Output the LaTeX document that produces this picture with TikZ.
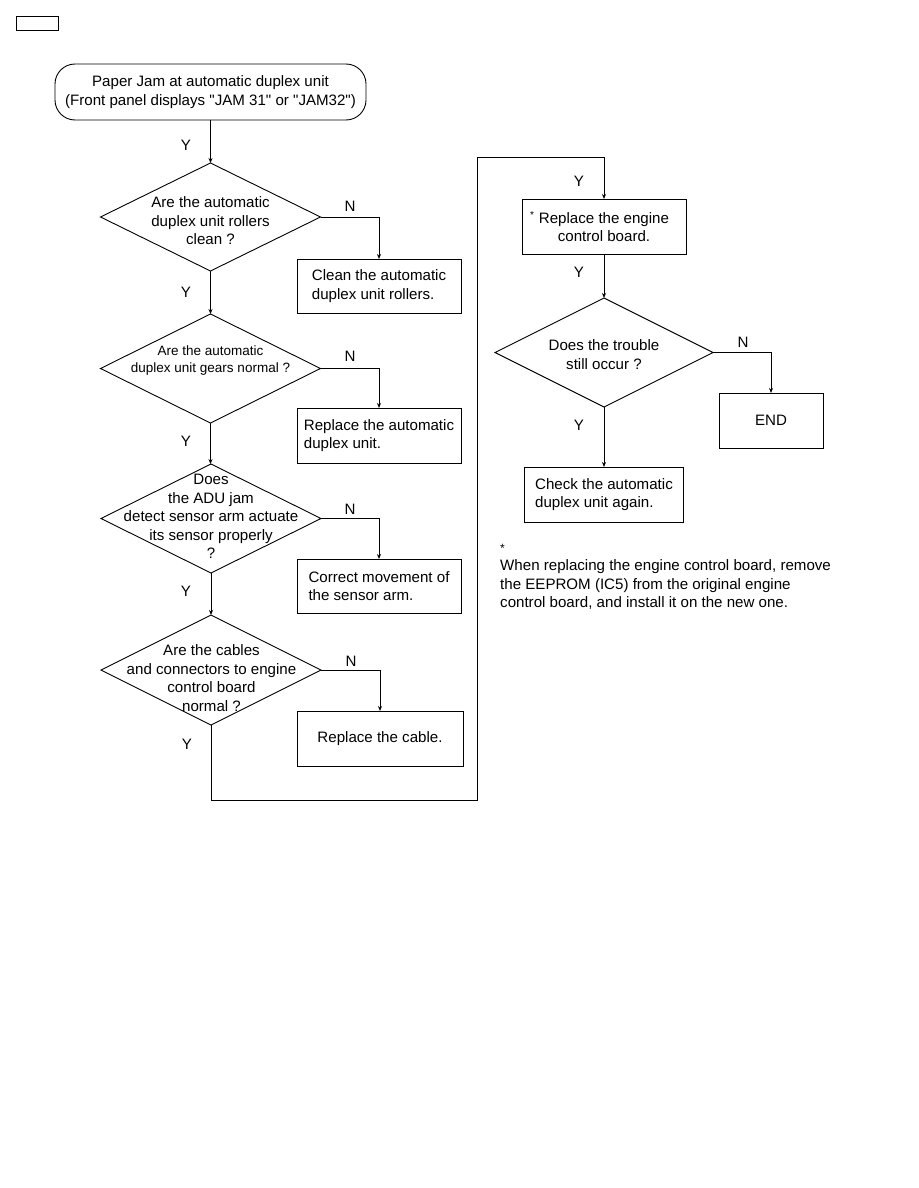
\documentclass[tikz,border=0pt]{standalone}
\usepackage{fontspec}
\setmainfont{Liberation Sans}[Ligatures=TeXOff]
\usetikzlibrary{shapes.geometric,arrows.meta}
\begin{document}
\begin{tikzpicture}[x=1pt,y=-1pt,
  every node/.style={font=\fontsize{15.1}{18.4}\selectfont},
  box/.style={draw, line width=0.9pt, minimum height=54, outer sep=0, align=left},
  dia/.style={draw, diamond, line width=0.9pt, inner sep=0, outer sep=0, minimum width=220, minimum height=108},
  dtext/.style={align=center, inner sep=0},
  conn/.style={line width=0.9pt, -{Stealth[length=5pt,width=4pt]}},
  lbl/.style={inner sep=0}]
\useasboundingbox (0,0) rectangle (918,1188);

\node[draw, line width=0.9pt, minimum width=42, minimum height=14, inner sep=0] (tag) at (37,23) {};

\node[draw, line width=0.9pt, rounded corners=20pt, minimum width=311, minimum height=56, align=center] (start) at (210.5,92)
  {Paper Jam at automatic duplex unit\\(Front panel displays "JAM 31" or "JAM32")};

% left column
\node[dia] (d1) at (210.5,217) {};
\node[dtext] at (210.5,221) {Are the automatic\\duplex unit rollers\\clean ?};
\node[box, minimum width=164] (b1) at (379,286) {Clean the automatic\\duplex unit rollers.};

\node[dia, minimum height=109] (d2) at (210.5,368.5) {};
\node[dtext, font=\fontsize{13.5}{17}\selectfont] at (210.5,360.5) {Are the automatic\\duplex unit gears normal ?};
\node[box, minimum width=164, minimum height=55] (b2) at (379,435.5) {Replace the automatic\\duplex unit.};

\node[dia, minimum height=109] (d3) at (211,518.5) {};
\node[dtext] at (211,516.5) {Does\\the ADU jam\\detect sensor arm actuate\\its sensor properly\\?};
\node[box, minimum width=164] (b3) at (379,586) {Correct movement of\\the sensor arm.};

\node[dia, minimum height=110] (d4) at (211,670) {};
\node[dtext] at (211.5,678) {Are the cables\\and connectors to engine\\control board\\normal ?};
\node[box, minimum width=166, minimum height=55] (b4) at (380,738.5) {Replace the cable.};

% right column
\node[box, minimum width=164, minimum height=55, align=center] (b5) at (604,226.5)
  {\llap{\raisebox{5pt}{\fontsize{10}{10}\selectfont *}\,\,}Replace the engine\\control board.};
\node[dia, minimum width=218, minimum height=109] (d5) at (604,352.5) {};
\node[dtext] at (604,354.5) {Does the trouble\\still occur ?};
\node[box, minimum width=104, minimum height=55] (end) at (771,420.5) {END};
\node[box, minimum width=159, minimum height=55] (b6) at (604,494.5) {Check the automatic\\duplex unit again.};

\node[align=left, inner sep=0, anchor=west] (note) at (500,577)
  {{\fontsize{12}{12}\selectfont *}\\When replacing the engine control board, remove\\the EEPROM (IC5) from the original engine\\control board, and install it on the new one.};

% connectors
\draw[conn] (start.south) -- (d1.north);
\draw[conn] (d1.east) -| (b1.north);
\draw[conn] (d1.south) -- (d2.north);
\draw[conn] (d2.east) -| (b2.north);
\draw[conn] (d2.south) -- (d2.south |- d3.north);
\draw[conn] (d3.east) -| (b3.north);
\draw[conn] (d3.south) -- (d4.north);
\draw[conn] (d4.east) -| (b4.north);

\coordinate (c1) at (211,800);
\coordinate (c2) at (477,800);
\coordinate (c3) at (477,157);
\draw[conn] (d4.south) -- (c1) -- (c2) -- (c3) -| (b5.north);
\draw[conn] (b5.south) -- (d5.north);
\draw[conn] (d5.east) -| (end.north);
\draw[conn] (d5.south) -- (b6.north);

% labels
\node[lbl] (y1) at (186,145) {Y};
\node[lbl] (y2) at (186,292) {Y};
\node[lbl] (y3) at (186,441) {Y};
\node[lbl] (y4) at (186,591) {Y};
\node[lbl] (y5) at (187,744) {Y};
\node[lbl] (y6) at (579,181) {Y};
\node[lbl] (y7) at (579,272) {Y};
\node[lbl] (y8) at (579,425) {Y};
\node[lbl] (n1) at (350,206) {N};
\node[lbl] (n2) at (350,356) {N};
\node[lbl] (n3) at (350,509) {N};
\node[lbl] (n4) at (351,661) {N};
\node[lbl] (n5) at (743,342) {N};
\end{tikzpicture}
\end{document}
